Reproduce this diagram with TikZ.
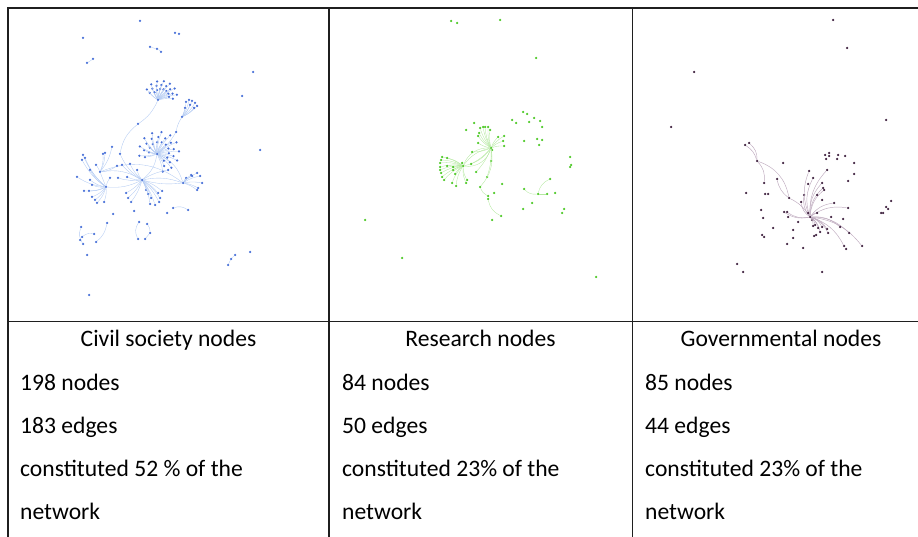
\documentclass[tikz,border=0pt]{standalone}
\usepackage{fontspec}
\setmainfont{Carlito}
\definecolor{csdot}{RGB}{70,110,215}
\definecolor{csedge}{RGB}{178,202,242}
\definecolor{redot}{RGB}{75,200,35}
\definecolor{reedge}{RGB}{180,232,160}
\definecolor{godot}{RGB}{60,30,60}
\definecolor{goedge}{RGB}{190,170,190}

\begin{document}
\begin{tikzpicture}
        [x=1pt,y=-1pt,
         dot/.style={circle,inner sep=0pt,minimum size=2.5pt},
         cs/.style={dot,fill=csdot},
         re/.style={dot,fill=redot},
         go/.style={dot,fill=godot},
         csline/.style={draw=csedge,line width=0.35pt},
         reline/.style={draw=reedge,line width=0.35pt},
         goline/.style={draw=goedge,line width=0.45pt},
         rule/.style={line width=1.8pt,black!88},
         head/.style={anchor=base,inner sep=0pt,font=\fontsize{23.6}{28}\selectfont},
         cell/.style={anchor=base west,inner sep=0pt,font=\fontsize{23.6}{28}\selectfont}]
        \useasboundingbox (0,0) rectangle (918,537);

        % table
        \draw [rule,line width=1.2pt] (8,8) -- (918,8);
        \draw [rule] (8,8) -- (18,8);
        \draw [rule] (317,8) -- (341,8);
        \draw [rule] (621,8) -- (643,8);
        \draw [rule] (8,7.4) -- (8,537);
        \draw [rule] (329,7.4) -- (329,537);
        \draw [rule] (632.5,7.4) -- (632.5,537);
        \draw [rule] (8,321.5) -- (918,321.5);

        % civil society network
        \node [cs] (ca) at (158,100) {};
        \node [cs] (cb) at (157,154) {};
        \node [cs] (cc) at (182,117) {};
        \node [cs] (cd) at (142,180) {};
        \node [cs] (ce) at (106,187) {};
        \node [cs] (cf) at (100,172) {};
        \node [cs] (cg) at (183,183) {};
        \node [cs] (c1) at (138,124) {};
        \node [cs] (c2) at (120,154) {};
        \node [cs] (c3) at (176,132) {};

        \path [csline] (ca) edge [bend left=15] (c1);
        \path [csline] (c1) edge [bend right=20] (c2);
        \path [csline] (cb) edge [bend right=10] (c3);
        \path [csline] (c3) edge [bend left=10] (cc);
        \path [csline] (c2) edge [bend right=15] (cd);
        \path [csline] (cb) edge [bend left=20] (cd);
        \path [csline] (cb) edge [bend left=25] (cg);
        \path [csline] (cd) edge [bend left=15] (cg);
        \path [csline] (cd) edge [bend right=10] (cg);
        \path [csline] (cf) edge [bend left=20] (cd);
        \path [csline] (ce) edge [bend right=15] (cd);
        \path [csline] (cf) edge (ce);
        \path [csline] (cf) edge [bend left=30] (cg);

        \foreach \a [count=\i] in {-160,-152,...,12} {
            \pgfmathsetmacro\r{8+mod(\i,3)*4}
            \node [cs] (ca\i) at ([shift={(161,97)}]\a:\r) {};
            \path [csline] (ca) edge [bend left=8] (ca\i);
        }
        \foreach \a [count=\i] in {-200,-191,...,80} {
            \pgfmathsetmacro\r{10+mod(\i,3)*5}
            \node [cs] (cb\i) at ([shift={(159,152)}]\a:\r) {};
            \path [csline] (cb) edge [bend left=8] (cb\i);
        }
        \foreach \x/\y [count=\i] in {186/102,189/100,192/101,195/103,197/106,194/108,190/105,185/108} {
            \node [cs] (cc\i) at (\x,\y) {};
            \path [csline] (cc) edge [bend right=10] (cc\i);
        }
        \foreach \x/\y [count=\i] in {122/165,130/164,118/178,126/193,128/198,131/202,146/190,148/194,151/198,
                                      158/193,162/191,160/198,159/202,150/204,155/205,127/177,137/170,168/170} {
            \node [cs] (cd\i) at (\x,\y) {};
            \path [csline] (cd) edge [bend left=10] (cd\i);
        }
        \foreach \x/\y [count=\i] in {83/155,85/158,82/160,77/177,90/180,92/185,84/191,89/191,92/197,
                                      95/200,97/203,104/202,110/178,90/170} {
            \node [cs] (ce\i) at (\x,\y) {};
            \path [csline] (ce) edge [bend left=12] (ce\i);
        }
        \foreach \x/\y [count=\i] in {105/153,103/154,112/147,96/165,117/166} {
            \node [cs] (cf\i) at (\x,\y) {};
            \path [csline] (cf) edge [bend right=12] (cf\i);
        }
        \foreach \x/\y [count=\i] in {197/173,200/176,202/183,198/188,192/176,186/178,197/190,191/175} {
            \node [cs] (cg\i) at (\x,\y) {};
            \path [csline] (cg) edge [bend left=10] (cg\i);
        }

        \node [cs] (cp1) at (150,47) {};
        \node [cs] (cp2) at (157,49) {};
        \node [cs] (cp3) at (161,52) {};
        \node [cs] (cp4) at (93,59) {};
        \node [cs] (cp5) at (87,63) {};
        \node [cs] (cp6) at (235,255) {};
        \node [cs] (cp7) at (228,265) {};
        \node [cs] (cp8) at (231,259) {};
        \node [cs] (cp9) at (173,208) {};
        \node [cs] (cp10) at (188,210) {};
        \node [cs] (cp11) at (81,227) {};
        \node [cs] (cp12) at (83,244) {};
        \node [cs] (cp13) at (94,234) {};
        \node [cs] (cp14) at (82,237) {};
        \node [cs] (cp15) at (107,223) {};
        \node [cs] (cp16) at (96,242) {};
        \node [cs] (cp17) at (139,222) {};
        \node [cs] (cp18) at (138,239) {};
        \node [cs] (cp19) at (147,224) {};
        \node [cs] (cp20) at (150,233) {};
        \node [cs] (cp21) at (145,239) {};

        \path [csline] (cp1) edge (cp2);
        \path [csline] (cp2) edge [bend left=20] (cp3);
        \path [csline] (cp4) edge (cp5);
        \path [csline] (cp6) edge (cp8);
        \path [csline] (cp8) edge (cp7);
        \path [csline] (cp9) edge [bend left=25] (cp10);
        \path [csline] (cp11) edge [bend right=25] (cp12);
        \path [csline] (cp13) edge [bend right=25] (cp14);
        \path [csline] (cp15) edge [bend left=20] (cp16);
        \path [csline] (cp17) edge [bend right=30] (cp18);
        \path [csline] (cp19) edge [bend left=20] (cp20);
        \path [csline] (cp20) edge (cp21);

        \foreach \x/\y [count=\i] in {140/21,83/38,175/33,179/34,253/72,242/96,260/150,89/295,250/252,
                                      167/213,134/211,113/214,80/240,87/255} {
            \node [cs] (ci\i) at (\x,\y) {};
        }

        % research network
        \node [re] (ga) at (491,148) {};
        \node [re] (gb) at (463,166) {};

        \path [reline] (ga) edge [bend left=20] (gb);
        \path [reline] (ga) edge [bend right=20] (gb);
        \path [reline] (ga) edge [bend left=40] (gb);
        \path [reline] (ga) edge [bend right=35] (gb);

        \foreach \x/\y [count=\i] in {480/128,483/127,485/127,488/127,490/130,479/133,478/136,498/137,504/136,
                                      503/141,504/146,478/143,492/150,491/161,487/177,476/172,472/152,471/164} {
            \node [re] (ga\i) at (\x,\y) {};
            \path [reline] (ga) edge [bend left=10] (ga\i);
        }
        \foreach \x/\y [count=\i] in {442/157,447/158,441/160,440/163,440/167,440/170,441/173,442/177,444/180,
                                      452/183,456/186,447/166,453/167,453/170,455/174,462/163,467/180,466/183} {
            \node [re] (gb\i) at (\x,\y) {};
            \path [reline] (gb) edge [bend right=12] (gb\i);
        }

        \node [re] (gl1) at (480,187) {};
        \node [re] (gl2) at (488,196) {};
        \node [re] (gl3) at (488,199) {};
        \node [re] (gl4) at (501,216) {};
        \node [re] (gl5) at (494,193) {};
        \node [re] (gr1) at (524,189) {};
        \node [re] (gr2) at (538,194) {};
        \node [re] (gr3) at (547,194) {};
        \node [re] (gr4) at (550,179) {};

        \path [reline] (ga) edge [bend left=25] (gl1);
        \path [reline] (gl1) edge [bend right=20] (gl2);
        \path [reline] (gl3) edge [bend right=25] (gl4);
        \path [reline] (gr1) edge [bend right=25] (gr2);
        \path [reline] (gr2) edge [bend left=25] (gr4);
        \path [reline] (gr2) edge (gr3);

        \foreach \x/\y [count=\i] in {451/21,457/23,500/20,536/58,365/220,402/258,596/277,474/123,466/130,
                                      523/112,527/114,534/118,540/121,542/127,529/122,512/120,516/123,524/141,
                                      537/139,542/140,539/145,570/157,571/165,570/167,532/203,523/209,564/209,
                                      562/213,555/193,502/184,492/220} {
            \node [re] (gi\i) at (\x,\y) {};
        }

        % governmental network
        \node [go] (ha) at (810,217) {};
        \node [go] (hb1) at (749,143) {};
        \node [go] (hb2) at (745,145) {};
        \node [go] (hb3) at (757,161) {};
        \node [go] (hb4) at (764,183) {};
        \node [go] (hb5) at (777,179) {};
        \node [go] (hb6) at (789,198) {};

        \path [goline] (hb1) edge [bend left=25] (hb3);
        \path [goline] (hb2) edge [bend left=20] (hb3);
        \path [goline] (hb3) edge [bend left=25] (hb4);
        \path [goline] (hb3) edge [bend left=30] (hb6);
        \path [goline] (hb5) edge [bend right=20] (hb6);
        \path [goline] (hb6) edge [bend left=15] (ha);

        \foreach \x/\y [count=\i] in {824/190,823/188,834/203,848/208,862/246,844/246,849/233,804/195,784/212,
                                      822/183,827/170,809/171,813/178,828/233,820/232,840/227,787/212,801/202,
                                      808/213,812/220,815/225,818/228,822/227,827/229,813/226,817/213} {
            \node [go] (ha\i) at (\x,\y) {};
            \path [goline] (ha) edge [bend left=22] (ha\i);
        }

        \foreach \x/\y [count=\i] in {833/20,847/48,694/72,671/127,886/120,891/201,886/207,888/209,881/213,
                                      883/213,737/264,743/272,822/272,793/238,787/244,803/248,825/155,829/153,
                                      829/156,826/159,838/155,845/156,837/159,854/163,854/174,848/181,808/184,
                                      783/163,746/193,765/194,768/194,761/210,763/218,773/228,762/235,764/237,
                                      817/195,788/217,798/222,793/230,814/236,816/235,831/217,843/219,846/249,
                                      822/200} {
            \node [go] (hi\i) at (\x,\y) {};
        }

        % table text
        \node [head] (t1) at (168.5,346) {Civil society nodes};
        \node [head] (t2) at (480.5,346) {Research nodes};
        \node [head] (t3) at (781,346) {Governmental nodes};

        \node [cell] (n1) at (20,390.5) {198 nodes};
        \node [cell] (e1) at (20,433.5) {183 edges};
        \node [cell] (p1) at (20,476.5) {constituted 52 \% of the};
        \node [cell] (w1) at (20,519.5) {network};

        \node [cell] (n2) at (342,390.5) {84 nodes};
        \node [cell] (e2) at (342,433.5) {50 edges};
        \node [cell] (p2) at (342,476.5) {constituted 23\% of the};
        \node [cell] (w2) at (342,519.5) {network};

        \node [cell] (n3) at (645,390.5) {85 nodes};
        \node [cell] (e3) at (645,433.5) {44 edges};
        \node [cell] (p3) at (645,476.5) {constituted 23\% of the};
        \node [cell] (w3) at (645,519.5) {network};
    \end{tikzpicture}
\end{document}
